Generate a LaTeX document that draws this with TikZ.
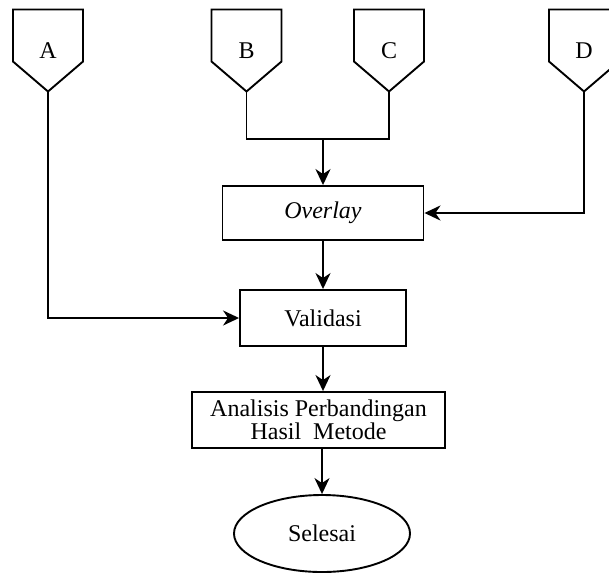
\documentclass[tikz,border=0pt]{standalone}
\usepackage{fontspec}
\setmainfont{Liberation Serif}
\usetikzlibrary{shapes.geometric,arrows.meta,positioning}

\begin{document}
\begin{tikzpicture}[x=1pt,y=-1pt,line width=1.9pt,>={Stealth[length=16pt,width=15pt,inset=5pt]},
  font=\fontsize{24}{23.5}\selectfont,
  box/.style={draw,rectangle,minimum height=56pt,inner sep=2pt},
  finish/.style={draw,ellipse,minimum width=176pt,minimum height=77pt}]
\useasboundingbox (0,0) rectangle (609,573);

% off-page connectors
\foreach \n/\x/\t in {a/48/A,b/246.5/B,c/389/C,d/584/D}{
  \draw (\x-35,9.5) -- (\x+35,9.5) -- (\x+35,61.5) -- (\x,91.5) -- (\x-35,61.5) -- cycle;
  \node (\n) at (\x,51) {\t};
  \coordinate (\n tip) at (\x,91.5);
}

\node[box,minimum width=201pt,minimum height=54pt](ov) at (323,213) {\textit{Overlay}};
\node[box,minimum width=166pt](val) at (323,318) {Validasi};
\node[box,minimum width=253pt,align=center](ana) at (318.5,420) {Analisis Perbandingan\\Hasil\ \ Metode};
\node[finish](sel) at (322,533.5) {Selesai};

\coordinate (bc) at (323,139);

\draw (btip) |- (bc) -| (ctip);
\draw[->] (bc) -- (ov);
\draw[->] (dtip) |- (ov);
\draw[->] (atip) |- (val);
\draw[->] (ov) -- (val);
\draw[->] (val.south) -- (val.south |- ana.north);
\draw[->] (ana.south -| sel.north) -- (sel);
\end{tikzpicture}
\end{document}
